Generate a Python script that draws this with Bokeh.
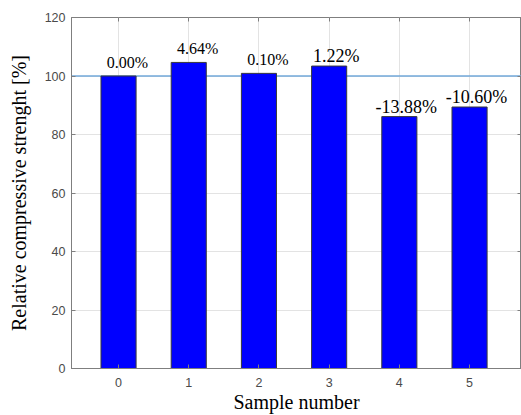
from bokeh.plotting import figure
from bokeh.models import (Range1d, FixedTicker, Span, ColumnDataSource, LabelSet,
                          LinearAxis, CustomLabelingPolicy)
from bokeh.embed import file_html
from bokeh.resources import INLINE

samples = [0, 1, 2, 3, 4, 5]
strength = [100.0, 104.64, 100.9, 103.4, 86.12, 89.4]
change_labels = ["0.00%", "4.64%", "0.10%", "1.22%", "-13.88%", "-10.60%"]
y_ticks = [0, 20, 40, 60, 80, 100, 120]
reference_level = 100

GRAY = "#7f7f7f"

p = figure(width=521, height=415, x_range=Range1d(-0.67, 5.74), y_range=Range1d(0, 120),
           output_backend="svg", toolbar_location=None,
           min_border_left=71, min_border_right=0, min_border_top=17, min_border_bottom=46)
p.background_fill_color = "white"
p.border_fill_color = "white"
p.outline_line_color = GRAY
p.outline_line_width = 1

p.xgrid.ticker = FixedTicker(ticks=samples)
p.ygrid.ticker = FixedTicker(ticks=y_ticks)
p.xgrid.grid_line_color = "#e3e3e3"
p.ygrid.grid_line_color = "#e3e3e3"

ref = Span(location=reference_level, dimension="width", line_color="#72a8da", line_width=1.3, level="underlay")
p.add_layout(ref)

src = ColumnDataSource(dict(x=samples, top=strength))
p.vbar(x="x", top="top", width=0.5, bottom=0, source=src, fill_color="#0000ff",
       line_color="#3a3a3a", line_width=1)

# first three labels are in a sans face, the last three in a serif face
sans_src = ColumnDataSource(dict(x=samples[:3], top=strength[:3], label=change_labels[:3]))
serif_src = ColumnDataSource(dict(x=samples[3:], top=strength[3:], label=change_labels[3:]))
p.add_layout(LabelSet(x="x", y="top", text="label", source=sans_src,
                      text_font="Liberation Sans", text_font_size="16px",
                      text_align="center", text_baseline="alphabetic",
                      x_offset=9, y_offset=8, text_color="black"))
p.add_layout(LabelSet(x="x", y="top", text="label", source=serif_src,
                      text_font="Liberation Serif", text_font_size="18px",
                      text_align="center", text_baseline="alphabetic",
                      x_offset=7, y_offset=4, text_color="black"))

for ax in (p.xaxis[0], p.yaxis[0]):
    ax.axis_line_color = GRAY
    ax.major_tick_line_color = GRAY
    ax.major_tick_in = 4
    ax.major_tick_out = 0
    ax.minor_tick_line_color = None
    ax.major_label_text_font = "Liberation Sans"
    ax.major_label_text_font_size = "12.5px"
    ax.major_label_text_color = "#4a4a4a"
    ax.axis_label_text_font = "Liberation Serif"
    ax.axis_label_text_font_size = "20px"
    ax.axis_label_text_font_style = "normal"
    ax.axis_label_text_color = "black"

p.xaxis[0].ticker = FixedTicker(ticks=samples)
p.yaxis[0].ticker = FixedTicker(ticks=y_ticks)
p.xaxis[0].axis_label = "Sample number"
p.yaxis[0].axis_label = "Relative compressive strenght [%]"
p.xaxis[0].major_label_standoff = 9
p.xaxis[0].axis_label_standoff = 1
p.yaxis[0].major_label_standoff = 6
p.yaxis[0].axis_label_standoff = 12

# inward ticks on the top and right sides of the box, without labels
no_labels = CustomLabelingPolicy(code="return []")
top_ax = LinearAxis(ticker=FixedTicker(ticks=samples), major_label_policy=no_labels,
                    major_label_text_font_size="0px", major_label_standoff=0,
                    axis_label_standoff=0,
                    axis_line_color=None, major_tick_line_color=GRAY,
                    major_tick_in=4, major_tick_out=0, minor_tick_line_color=None)
right_ax = LinearAxis(ticker=FixedTicker(ticks=y_ticks), major_label_policy=no_labels,
                      major_label_text_font_size="0px", major_label_standoff=0,
                      axis_label_standoff=0,
                      axis_line_color=None, major_tick_line_color=GRAY,
                      major_tick_in=4, major_tick_out=0, minor_tick_line_color=None)
p.add_layout(top_ax, "above")
p.add_layout(right_ax, "right")

open("out.html", "w").write(file_html(p, INLINE))
